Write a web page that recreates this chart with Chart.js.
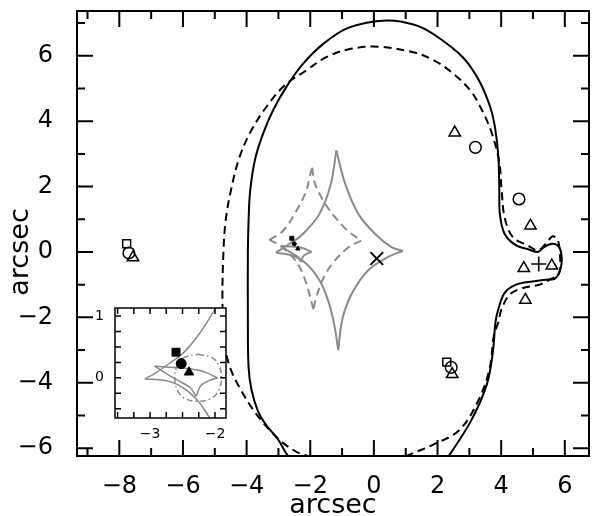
<!DOCTYPE html>
<html lang="en">
<head>
<meta charset="utf-8" />
<title>arcsec</title>
<script src="https://cdn.jsdelivr.net/npm/chart.js@4.4.1/dist/chart.umd.min.js"></script>
<style>
  body { margin: 0; background: #fff; }
  #wrap { position: relative; width: 600px; height: 516px; }
  #inset { position: absolute; left: 80px; top: 300px; }
</style>
</head>
<body>
<div id="wrap">
  <canvas id="mainChart" width="600" height="516"></canvas>
  <canvas id="inset" width="160" height="150"></canvas>
</div>
<script>
// ---- ticks ----
var xMajor = [-8, -6, -4, -2, 0, 2, 4, 6];
var xMinor = [-9, -7, -5, -3, -1, 1, 3, 5];
var yMajor = [-6, -4, -2, 0, 2, 4, 6];
var yMinor = [-5, -3, -1, 1, 3, 5, 7];
var insetXTicks = [-3.5, -3.25, -3, -2.75, -2.5, -2.25, -2];
var insetYTicks = [-0.5, -0.25, 0, 0.25, 0.5, 0.75, 1];
var insetXLabels = [-3, -2];
var insetYLabels = [0, 1];

// ---- critical curves (black) ----
var critSolid = [[-2.20,-6.80],[-2.70,-6.24],[-3.02,-5.72],[-3.38,-5.30],[-3.65,-4.85],[-3.85,-4.20],
  [-3.94,-3.50],[-3.96,-2.00],[-3.96,0.00],[-3.94,0.90],[-3.89,1.85],[-3.73,2.85],[-3.47,3.65],
  [-3.16,4.35],[-2.75,5.05],[-2.23,5.75],[-1.61,6.35],[-0.79,6.86],[0.40,7.08],[1.27,6.95],[1.89,6.65],
  [2.80,5.95],[3.30,5.25],[3.65,4.45],[3.80,3.85],[3.91,2.95],[3.94,1.95],[3.96,1.15],[4.11,0.55],
  [4.47,0.20],[4.89,0.07],[5.15,0.00],[5.35,0.15],[5.61,0.25],[5.82,0.15],[5.90,-0.15],[5.87,-0.50],
  [5.71,-0.80],[5.40,-0.85],[4.99,-0.90],[4.47,-1.00],[4.11,-1.25],[3.91,-1.75],[3.82,-2.15],
  [3.74,-3.05],[3.55,-4.05],[3.06,-5.15],[2.35,-6.24],[1.90,-6.80]];
var critDashed = [[-1.60,-6.50],[-2.08,-6.24],[-2.44,-6.11],[-3.01,-5.71],[-3.70,-4.95],[-4.22,-4.15],
  [-4.55,-3.45],[-4.71,-2.65],[-4.76,-1.55],[-4.73,-0.05],[-4.66,0.95],[-4.50,1.85],[-4.24,2.85],
  [-3.89,3.65],[-3.37,4.45],[-2.80,5.10],[-2.13,5.55],[-1.51,5.95],[-0.79,6.20],[0.14,6.28],[1.27,6.10],
  [1.89,5.86],[2.50,5.45],[3.04,4.93],[3.39,4.35],[3.70,3.65],[3.94,2.75],[4.01,1.95],[4.11,1.05],[4.37,0.45],
  [4.84,0.20],[5.15,0.05],[5.40,0.25],[5.62,0.48],[5.78,0.35],[5.84,0.00],[5.82,-0.65],[5.51,-0.85],
  [5.20,-1.00],[4.68,-1.10],[4.27,-1.30],[4.01,-1.75],[3.91,-2.15],[3.77,-2.55],[3.64,-3.55],
  [3.28,-4.55],[2.68,-5.45],[1.85,-5.90],[1.02,-6.24],[0.50,-6.50]];

// ---- caustics (grey) ----
var causticTopRight = [[-1.18,3.10],[-0.89,2.05],[-0.48,1.15],[0.04,0.55],[0.55,0.15],[0.91,0.03]];
var causticRightBottom = [[0.91,0.03],[0.45,-0.15],[-0.17,-0.55],[-0.68,-1.25],[-0.99,-2.05],[-1.12,-3.00]];
var causticBottomLeft = [[-1.12,-3.00],[-1.25,-2.20],[-1.45,-1.45],[-1.72,-0.85],[-2.13,-0.35],[-2.54,-0.12],[-3.08,-0.02]];
var causticLeftTop = [[-3.08,-0.02],[-2.65,0.25],[-2.23,0.55],[-1.72,1.15],[-1.36,2.05],[-1.18,3.10]];

var dashTopRight = [[-1.94,2.58],[-1.87,2.15],[-1.72,1.80],[-1.48,1.40],[-1.15,0.98],[-0.79,0.62],[-0.40,0.35]];
var dashRightBottom = [[-0.40,0.35],[-0.79,0.15],[-1.30,-0.35],[-1.61,-0.85],[-1.80,-1.35],[-1.90,-1.75]];
var dashBottomLeft = [[-1.90,-1.75],[-2.13,-0.95],[-2.34,-0.45],[-2.65,-0.05],[-2.96,0.20],[-3.28,0.37]];
var dashLeftTop = [[-3.28,0.37],[-2.85,0.65],[-2.44,1.25],[-2.13,1.85],[-2.03,2.25],[-1.94,2.58]];

var smallTop = [[-2.93,0.19],[-2.70,0.17],[-2.49,0.16],[-2.20,0.11],[-1.96,0.00]];
var smallBottom = [[-1.96,0.00],[-2.10,-0.05],[-2.22,-0.13],[-2.29,-0.30]];
var smallLeft = [[-2.29,-0.30],[-2.38,-0.16],[-2.59,-0.03],[-2.77,0.08],[-2.93,0.19]];

// inset-only curves
var insetArcUpper = [[-1.90,1.25],[-1.95,1.19],[-2.23,0.73],[-2.49,0.40],[-2.72,0.22],[-2.90,0.09],[-3.08,-0.02]];
var insetArcLower = [[-2.02,-0.75],[-2.08,-0.65],[-2.28,-0.35],[-2.54,-0.13],[-2.79,-0.04],[-3.08,-0.02]];
var insetRing = [[-2.26,0.38],[-2.05,0.33],[-1.94,0.20],[-1.90,0.00],[-1.94,-0.20],[-2.05,-0.33],[-2.26,-0.38],
  [-2.47,-0.33],[-2.58,-0.20],[-2.62,0.00],[-2.58,0.20],[-2.47,0.33],[-2.26,0.38]];

// ---- image positions ----
var openSquareX = [-7.77, 2.29], openSquareY = [0.25, -3.37];
var openCircleX = [-7.70, 2.43, 3.19, 4.56], openCircleY = [-0.03, -3.53, 3.20, 1.62];
var openTriX = [-7.57, 2.46, 2.54, 4.92, 4.71, 5.59, 4.76];
var openTriY = [-0.17, -3.74, 3.65, 0.80, -0.50, -0.42, -1.47];
var plusX = [5.18], plusY = [-0.37];
var crossX = [0.09], crossY = [-0.20];
// source positions (filled)
var srcSquare = [-2.58, 0.42], srcCircle = [-2.50, 0.25], srcTri = [-2.39, 0.10];

var GREY = '#8a8a8a';

function pts(arr) { return arr.map(function (p) { return { x: p[0], y: p[1] }; }); }
function xy(xs, ys) { return xs.map(function (v, i) { return { x: v, y: ys[i] }; }); }
function curve(arr, color, dash, width, tension) {
  return { data: pts(arr), showLine: true, borderColor: color, borderWidth: width, borderDash: dash,
           pointRadius: 0, pointHoverRadius: 0, tension: tension, fill: false };
}
function marks(data, style, r, filled, bw) {
  return { data: data, showLine: false, pointStyle: style, pointRadius: r, pointHoverRadius: r,
           borderColor: '#000', borderWidth: bw, backgroundColor: filled ? '#000' : 'rgba(0,0,0,0)' };
}
function fmt(v) { return v < 0 ? '\u2212' + Math.abs(v) : String(v); }
function noPad(s) { s.paddingTop = 0; s.paddingBottom = 0; s.paddingLeft = 0; s.paddingRight = 0; }

var frameTicks = {
  id: 'frameTicks',
  beforeDraw: function (chart, args, o) {
    if (!o.fill) return;
    var a = chart.chartArea, ctx = chart.ctx;
    ctx.save(); ctx.fillStyle = '#fff';
    ctx.fillRect(a.left, a.top, a.right - a.left, a.bottom - a.top);
    ctx.restore();
  },
  afterDatasetsDraw: function (chart, args, o) {
    var ctx = chart.ctx, a = chart.chartArea, sx = chart.scales.x, sy = chart.scales.y;
    ctx.save();
    ctx.strokeStyle = '#000';
    ctx.lineWidth = o.width;
    ctx.beginPath();
    function vt(vals, len) {
      vals.forEach(function (v) {
        var p = sx.getPixelForValue(v);
        ctx.moveTo(p, a.bottom); ctx.lineTo(p, a.bottom - len);
        ctx.moveTo(p, a.top); ctx.lineTo(p, a.top + len);
      });
    }
    function ht(vals, len) {
      vals.forEach(function (v) {
        var p = sy.getPixelForValue(v);
        ctx.moveTo(a.left, p); ctx.lineTo(a.left + len, p);
        ctx.moveTo(a.right, p); ctx.lineTo(a.right - len, p);
      });
    }
    vt(o.xMajor, o.major); vt(o.xMinor, o.minor);
    ht(o.yMajor, o.major); ht(o.yMinor, o.minor);
    ctx.stroke();
    ctx.strokeRect(a.left, a.top, a.right - a.left, a.bottom - a.top);
    ctx.restore();
  }
};

var axisTitles = {
  id: 'axisTitles',
  afterDraw: function (chart, args, o) {
    var ctx = chart.ctx, a = chart.chartArea;
    ctx.save();
    ctx.font = '27px "DejaVu Sans"';
    ctx.fillStyle = '#000';
    ctx.textAlign = 'center';
    ctx.textBaseline = 'middle';
    ctx.fillText(o.text, (a.left + a.right) / 2, 506);
    ctx.translate(21, chart.scales.y.getPixelForValue(0));
    ctx.rotate(-Math.PI / 2);
    ctx.fillText(o.text, 0, 0);
    ctx.restore();
  }
};

// main panel
var mainSets = [
  marks(xy(plusX, plusY), 'cross', 7.5, false, 1.6),
  marks(xy(crossX, crossY), 'crossRot', 9, false, 2),
  marks(xy(openSquareX, openSquareY), 'rect', 5.6, false, 1.5),
  marks(xy(openCircleX, openCircleY), 'circle', 5.8, false, 1.5),
  marks(xy(openTriX, openTriY), 'triangle', 6.6, false, 1.5),
  marks(pts([srcSquare]), 'rect', 2.8, true, 1),
  marks(pts([srcCircle]), 'circle', 2, true, 1),
  marks(pts([srcTri]), 'triangle', 2.5, true, 1),
  curve(critSolid, '#000', [], 2, 0.35),
  curve(critDashed, '#000', [8, 5], 2, 0.35),
  curve(smallTop, GREY, [], 2, 0.3),
  curve(smallBottom, GREY, [], 2, 0.3),
  curve(smallLeft, GREY, [], 2, 0.3),
  curve(causticTopRight, GREY, [], 2, 0.35),
  curve(causticRightBottom, GREY, [], 2, 0.35),
  curve(causticBottomLeft, GREY, [], 2, 0.35),
  curve(causticLeftTop, GREY, [], 2, 0.35),
  curve(dashTopRight, GREY, [8, 5], 2, 0.35),
  curve(dashRightBottom, GREY, [8, 5], 2, 0.35),
  curve(dashBottomLeft, GREY, [8, 5], 2, 0.35),
  curve(dashLeftTop, GREY, [8, 5], 2, 0.35)
];

new Chart(document.getElementById('mainChart'), {
  type: 'scatter',
  data: { datasets: mainSets },
  options: {
    responsive: false, animation: false, devicePixelRatio: 1,
    layout: { padding: { top: 3, right: 3, left: 0, bottom: 0 } },
    plugins: {
      legend: { display: false }, tooltip: { enabled: false },
      frameTicks: { width: 2, major: 16, minor: 8, xMajor: xMajor, xMinor: xMinor, yMajor: yMajor, yMinor: yMinor },
      axisTitles: { text: 'arcsec' }
    },
    scales: {
      x: {
        type: 'linear', min: -9.33, max: 6.76,
        grid: { display: false }, border: { display: false },
        afterBuildTicks: function (s) { s.ticks = xMajor.map(function (v) { return { value: v }; }); },
        afterFit: function (s) { s.height = 60; noPad(s); },
        ticks: { font: { family: 'DejaVu Sans', size: 24 }, color: '#000', padding: 8,
                 maxRotation: 0, autoSkip: false, callback: fmt }
      },
      y: {
        type: 'linear', min: -6.24, max: 7.37,
        grid: { display: false }, border: { display: false },
        afterBuildTicks: function (s) { s.ticks = yMajor.map(function (v) { return { value: v }; }); },
        afterFit: function (s) { s.width = 77; noPad(s); },
        ticks: { font: { family: 'DejaVu Sans', size: 24 }, color: '#000', padding: 16,
                 autoSkip: false, callback: fmt }
      }
    }
  },
  plugins: [frameTicks, axisTitles]
});

// inset panel
var insetSets = [
  marks(pts([[-2.60, 0.415]]), 'rect', 5.6, true, 1),
  marks(pts([[-2.52, 0.23]]), 'circle', 5, true, 1),
  marks(pts([[-2.40, 0.09]]), 'triangle', 5.5, true, 1),
  curve(insetArcUpper, GREY, [], 1.5, 0.3),
  curve(insetArcLower, GREY, [], 1.5, 0.3),
  curve(smallTop, GREY, [], 1.5, 0.3),
  curve(smallBottom, GREY, [], 1.5, 0.3),
  curve(smallLeft, GREY, [], 1.5, 0.3),
  curve(insetRing, GREY, [6, 3, 1.5, 3], 1.5, 0.4)
];

new Chart(document.getElementById('inset'), {
  type: 'scatter',
  data: { datasets: insetSets },
  options: {
    responsive: false, animation: false, devicePixelRatio: 1,
    layout: { padding: { top: 8, right: 14, left: 0, bottom: 0 } },
    plugins: {
      legend: { display: false }, tooltip: { enabled: false },
      frameTicks: { fill: true, width: 1.5, major: 6, minor: 6, xMajor: insetXTicks, xMinor: [], yMajor: insetYTicks, yMinor: [] }
    },
    scales: {
      x: {
        type: 'linear', min: -3.54, max: -1.83,
        grid: { display: false }, border: { display: false },
        afterBuildTicks: function (s) { s.ticks = insetXLabels.map(function (v) { return { value: v }; }); },
        afterFit: function (s) { s.height = 32; noPad(s); },
        ticks: { font: { family: 'DejaVu Sans', size: 14 }, color: '#000', padding: 0,
                 maxRotation: 0, autoSkip: false, callback: fmt }
      },
      y: {
        type: 'linear', min: -0.65, max: 1.13,
        grid: { display: false }, border: { display: false },
        afterBuildTicks: function (s) { s.ticks = insetYLabels.map(function (v) { return { value: v }; }); },
        afterFit: function (s) { s.width = 35; noPad(s); },
        ticks: { font: { family: 'DejaVu Sans', size: 14 }, color: '#000', padding: 3,
                 autoSkip: false, callback: fmt }
      }
    }
  },
  plugins: [frameTicks]
});
</script>
</body>
</html>
